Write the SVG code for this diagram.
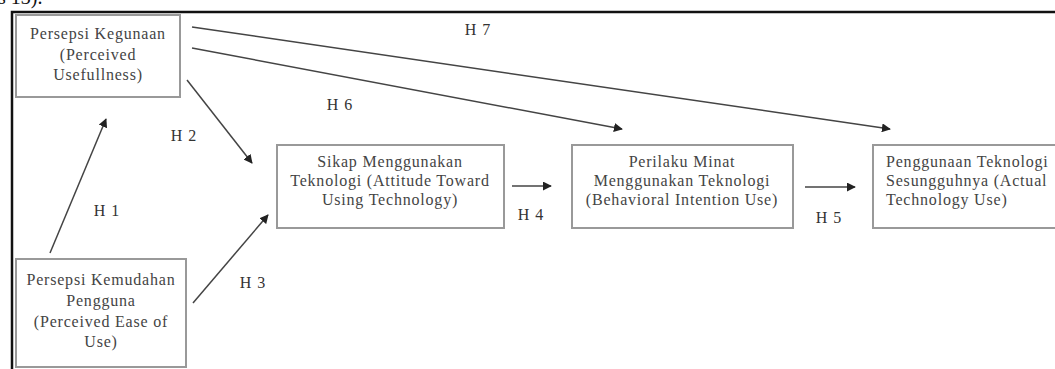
<svg xmlns="http://www.w3.org/2000/svg" width="1055" height="369" viewBox="0 0 1055 369">
<defs>
<marker id="ah" viewBox="0 0 10 10" refX="9" refY="5" markerWidth="9" markerHeight="9" markerUnits="userSpaceOnUse" orient="auto">
<path d="M0,0 L10,5 L0,10 z" fill="#222"/>
</marker>
<style>
.box{fill:#fff;stroke:#999;stroke-width:2}
.t{font-family:"Liberation Serif","Times New Roman",serif;font-size:16px;letter-spacing:0.8px;fill:#444;text-anchor:middle}
.tl{font-family:"Liberation Serif","Times New Roman",serif;font-size:16px;letter-spacing:0.8px;fill:#444}
.lbl{font-family:"Liberation Serif","Times New Roman",serif;font-size:16px;letter-spacing:1px;fill:#333;text-anchor:middle}
.c{stroke:#444;stroke-width:1.5;fill:none;marker-end:url(#ah)}
</style>
</defs>
<rect width="1055" height="369" fill="#fff"/>
<text x="-2" y="4" font-family="Liberation Serif, serif" font-size="20" fill="#111">s 13).</text>
<path d="M12,371 L12,12 L1060,12" fill="none" stroke="#111" stroke-width="2.5"/>

<g id="connectors">
<line class="c" x1="50" y1="253" x2="106" y2="119"/>
<line class="c" x1="187" y1="80" x2="252" y2="163"/>
<line class="c" x1="193" y1="303" x2="268" y2="215"/>
<line class="c" x1="512" y1="186" x2="551" y2="186"/>
<line class="c" x1="805" y1="187" x2="855" y2="187"/>
<line class="c" x1="192" y1="48" x2="622" y2="129"/>
<line class="c" x1="192" y1="27" x2="890" y2="129"/>
</g>

<g id="labels">
<text class="lbl" x="478" y="35">H 7</text>
<text class="lbl" x="340" y="110">H 6</text>
<text class="lbl" x="184" y="141">H 2</text>
<text class="lbl" x="107" y="216">H 1</text>
<text class="lbl" x="253" y="288">H 3</text>
<text class="lbl" x="531" y="220">H 4</text>
<text class="lbl" x="829" y="223">H 5</text>
</g>

<g id="node-pu">
<rect class="box" x="16" y="15" width="164" height="82"/>
<text class="t" x="98" y="39">Persepsi Kegunaan</text>
<text class="t" x="98" y="60">(Perceived</text>
<text class="t" x="98" y="80">Usefullness)</text>
</g>

<g id="node-peou">
<rect class="box" x="16" y="259" width="170" height="108"/>
<text class="t" x="101" y="285">Persepsi Kemudahan</text>
<text class="t" x="101" y="306">Pengguna</text>
<text class="t" x="101" y="327">(Perceived Ease of</text>
<text class="t" x="101" y="347">Use)</text>
</g>

<g id="node-atu">
<rect class="box" x="277" y="145" width="227" height="83"/>
<text class="t" x="390" y="167">Sikap Menggunakan</text>
<text class="t" x="390" y="186">Teknologi (Attitude Toward</text>
<text class="t" x="390" y="205">Using Technology)</text>
</g>

<g id="node-biu">
<rect class="box" x="572" y="145" width="221" height="83"/>
<text class="t" x="682" y="167">Perilaku Minat</text>
<text class="t" x="682" y="186">Menggunakan Teknologi</text>
<text class="t" x="682" y="205">(Behavioral Intention Use)</text>
</g>

<g id="node-atu2">
<rect class="box" x="873" y="145" width="190" height="83"/>
<text class="tl" x="886" y="167">Penggunaan Teknologi</text>
<text class="tl" x="886" y="186">Sesungguhnya (Actual</text>
<text class="tl" x="886" y="205">Technology Use)</text>
</g>
</svg>
